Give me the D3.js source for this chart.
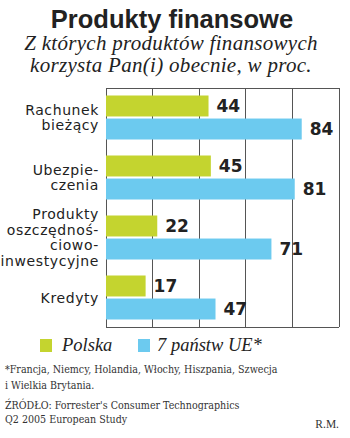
<!DOCTYPE html>
<html><head><meta charset="utf-8">
<script src="https://cdn.jsdelivr.net/npm/d3@7"></script>
<style>
html,body{margin:0;padding:0;background:#fff;}
svg{display:block;}
</style>
</head><body>
<svg id="c" width="350" height="438"></svg>
<script>
const categories = ["Rachunek bieżący","Ubezpieczenia","Produkty oszczędnościowo-inwestycyjne","Kredyty"];
const categoryLines = [["Rachunek","bieżący"],["Ubezpie-","czenia"],["Produkty","oszczędnoś-","ciowo-","inwestycyjne"],["Kredyty"]];
const seriesNames = ["Polska","7 państw UE*"];
const polska = [44,45,22,17];
const ue7 = [84,81,71,47];
const ticks = [0,20,40,60,80,100];
const title = "Produkty finansowe";
const subtitle = ["Z których produktów finansowych","korzysta Pan(i) obecnie, w proc."];
const footnote = ["*Francja, Niemcy, Holandia, Włochy, Hiszpania, Szwecja","i Wielkia Brytania."];
const source = ["ŹRÓDŁO: Forrester's Consumer Technographics","Q2 2005 European Study"];
const author = "R.M.";
const colors = ["#c4d42f","#6ccaef"];

const svg = d3.select("#c");
const x = d3.scaleLinear().domain([0,100]).range([106,339]);
const y = d3.scaleBand().domain(categories).range([88,327]).paddingInner(16/60).paddingOuter(0.125);
const ys = d3.scaleBand().domain(seriesNames).range([0,y.bandwidth()]).paddingInner(0.09);

// title
svg.append("text").attr("x",172).attr("y",28).attr("text-anchor","middle")
  .attr("font-family","Liberation Sans, Arial, sans-serif").attr("font-weight","bold")
  .attr("font-size",25.5).attr("fill","#222").text(title);
svg.selectAll("text.sub").data(subtitle).join("text").attr("class","sub")
  .attr("x",171).attr("y",(d,i)=>50+i*22).attr("text-anchor","middle")
  .attr("font-family","Liberation Serif, serif").attr("font-style","italic")
  .attr("font-size",21).attr("letter-spacing",0.3).attr("fill","#222").text(d=>d);

// grid
const g = svg.append("g");
g.selectAll("line.v").data(ticks).join("line").attr("class","v")
  .attr("x1",d=>x(d)).attr("x2",d=>x(d)).attr("y1",88).attr("y2",327)
  .attr("stroke","#555").attr("stroke-width",1).attr("shape-rendering","crispEdges");
g.selectAll("line.h").data([88,327]).join("line").attr("class","h")
  .attr("x1",x(0)).attr("x2",x(100)).attr("y1",d=>d).attr("y2",d=>d)
  .attr("stroke","#555").attr("stroke-width",1).attr("shape-rendering","crispEdges");

// bars
const rows = categories.map((c,i)=>({c, vals:[{s:seriesNames[0],v:polska[i]},{s:seriesNames[1],v:ue7[i]}]}));
const grp = svg.selectAll("g.grp").data(rows).join("g").attr("class","grp")
  .attr("transform",d=>`translate(0,${y(d.c)})`);
grp.selectAll("rect").data(d=>d.vals).join("rect")
  .attr("x",x(0)).attr("y",d=>ys(d.s)).attr("width",d=>x(d.v)-x(0)).attr("height",ys.bandwidth())
  .attr("fill",(d,i)=>colors[i]);
grp.selectAll("text.val").data(d=>d.vals).join("text").attr("class","val")
  .attr("x",d=>x(d.v)+8).attr("y",d=>ys(d.s)+ys.bandwidth()/2+6)
  .attr("font-family","DejaVu Sans, sans-serif").attr("font-weight","bold")
  .attr("font-size",17).attr("fill","#222").text(d=>d.v);

// category labels
const lh = 15.5;
categories.forEach((c,i)=>{
  const lines = categoryLines[i];
  const cy = y(c)+y.bandwidth()/2;
  const first = cy - (lines.length-1)*lh/2 + 5;
  svg.append("text").attr("text-anchor","end")
    .attr("font-family","DejaVu Sans, sans-serif").attr("font-size",14).attr("fill","#222")
    .attr("letter-spacing",0.6)
    .selectAll("tspan").data(lines).join("tspan")
    .attr("x",99).attr("y",(d,j)=>first+j*lh).text(d=>d);
});

// legend
const leg = svg.selectAll("g.leg").data(seriesNames).join("g").attr("class","leg")
  .attr("transform",(d,i)=>`translate(${[40,138][i]},339)`);
leg.append("rect").attr("width",12).attr("height",13).attr("fill",(d,i)=>colors[i]);
leg.append("text").attr("x",(d,i)=>[22,19][i]).attr("y",11.5)
  .attr("font-family","Liberation Serif, serif").attr("font-style","italic")
  .attr("font-size",18.5).attr("fill","#222").text(d=>d);

// footnotes
svg.selectAll("text.fn").data(footnote.map((t,i)=>({t,y:373+i*16})).concat(source.map((t,i)=>({t,y:409+i*14}))))
  .join("text").attr("class","fn").attr("x",5).attr("y",d=>d.y)
  .attr("font-family","DejaVu Serif Condensed, DejaVu Serif, serif").attr("font-stretch","condensed")
  .attr("font-size",10.6).attr("fill","#333").text(d=>d.t);
svg.append("text").attr("x",339).attr("y",428).attr("text-anchor","end")
  .attr("font-family","Liberation Serif, serif").attr("font-size",11.5).attr("fill","#333").text(author);
</script>
</body></html>
